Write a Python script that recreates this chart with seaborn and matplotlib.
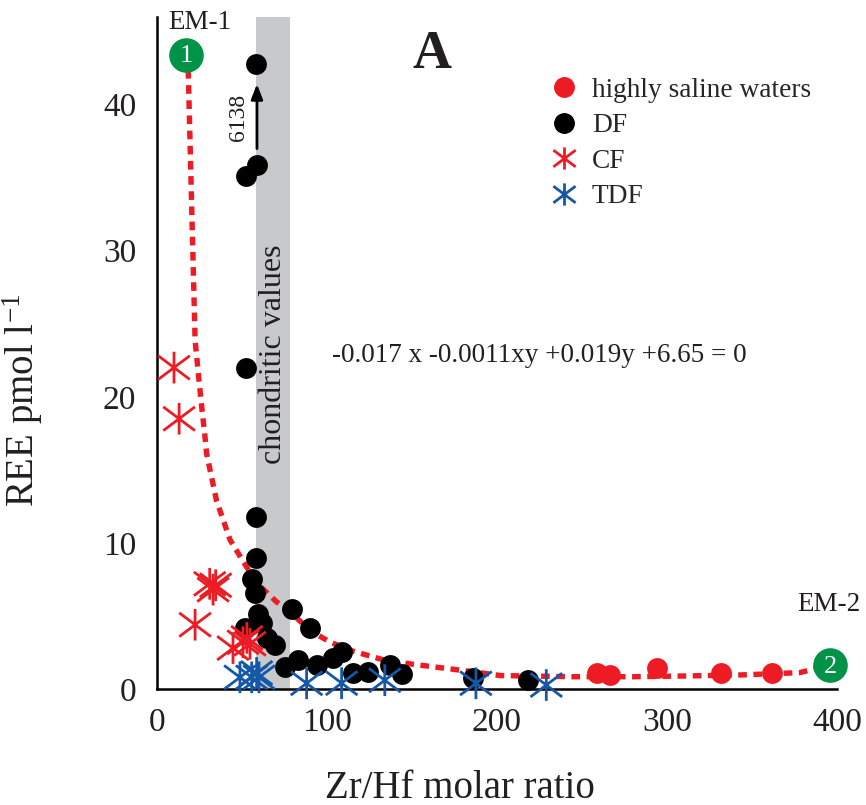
import matplotlib
matplotlib.use("Agg")
import matplotlib.pyplot as plt
from matplotlib.path import Path
from matplotlib.lines import Line2D
import numpy as np
import pandas as pd
import seaborn as sns

# ---- data -----------------------------------------------------------------
# highly saline waters
saline_zrhf = [258.8, 266.5, 294.0, 332.0, 362.0]
saline_ree = [1.10, 0.96, 1.44, 1.10, 1.10]

# DF (first sample is off scale: 6138 pmol/l, drawn at the top with an arrow)
df_zrhf = [58.2, 58.8, 52.4, 52.4, 58.2, 58.2, 55.9, 57.6, 59.4, 51.8, 61.8,
           64.7, 69.4, 79.4, 90.0, 75.3, 83.0, 94.0, 103.5, 108.8, 115.3,
           124.0, 137.0, 144.0, 186.0, 218.0]
df_ree = [6138.0, 35.9, 35.1, 22.0, 11.8, 9.0, 7.5, 6.6, 5.1, 4.2, 4.5,
          3.5, 3.0, 5.5, 4.2, 1.5, 2.0, 1.64, 2.1, 2.5, 1.1,
          1.16, 1.64, 1.0, 0.75, 0.6]
df_display_cap = 42.8

# CF
cf_zrhf = [10.0, 13.0, 31.0, 33.0, 34.5, 22.4, 44.7, 50.6, 52.9, 54.7]
cf_ree = [22.0, 18.5, 7.2, 6.8, 7.1, 4.4, 2.8, 3.2, 3.5, 3.1]

# TDF
tdf_zrhf = [48.8, 55.7, 58.6, 60.0, 88.0, 108.6, 134.0, 187.6, 229.0]
tdf_ree = [0.80, 0.80, 1.10, 0.80, 0.39, 0.40, 0.60, 0.39, 0.27]

# end members
em_zrhf = [17.0, 396.0]
em_ree = [43.4, 1.64]
em_num = ["1", "2"]
em_names = ["EM-1", "EM-2"]

# mixing curve between the end members
mix_zrhf = [17, 18.4, 19.4, 20.4, 21.4, 22.4, 24.3, 26.3, 28.2, 29.2, 35, 43,
            53, 60, 70, 80, 90, 102, 115, 133, 150, 168, 186, 202, 245, 280,
            310, 343, 378, 396]
mix_ree = [43.4, 42.2, 37.6, 33.0, 28.5, 23.9, 21.6, 19.3, 17.3, 16.1, 12.9,
           10.2, 8.3, 7.1, 6.0, 5.1, 4.0, 3.2, 2.6, 2.0, 1.7, 1.44, 1.18, 0.92,
           0.84, 0.84, 0.89, 0.96, 1.12, 1.64]

chondritic_range = (58.0, 78.0)
equation = "-0.017 x -0.0011xy +0.019y +6.65 = 0"

# ---- style ----------------------------------------------------------------
sns.set_style("white")
plt.rcParams["font.family"] = ["Liberation Serif", "DejaVu Serif"]
plt.rcParams["mathtext.fontset"] = "stix"

RED = "#ED1C24"
BLUE = "#1558A8"
GREEN = "#009247"
INK = "#231F20"
GREY = "#C8C9CB"

# six-spoke asterisk: vertical bar plus a wide X
star = Path([(0, -1), (0, 1), (-1.0, -0.75), (1.0, 0.75), (-1.0, 0.75), (1.0, -0.75)],
            [Path.MOVETO, Path.LINETO, Path.MOVETO, Path.LINETO, Path.MOVETO, Path.LINETO])

fig = plt.figure(figsize=(8.66, 8.05), dpi=100)
ax = fig.add_axes([0.1813, 0.1441, 0.7852, 0.8348])

ax.axvspan(*chondritic_range, color=GREY, lw=0, zorder=0)
ax.text(sum(chondritic_range) / 2 + 0.5, 22.9, "chondritic values", rotation=90,
        ha="center", va="center", fontsize=23, color=INK, zorder=1)

mix = pd.DataFrame({"zrhf": mix_zrhf, "ree": mix_ree})
sns.lineplot(data=mix, x="zrhf", y="ree", sort=False, estimator=None, ax=ax,
             color=RED, lw=3.9, linestyle=(0, (1.6, 1.2)), dash_capstyle="butt",
             zorder=2)

df = pd.DataFrame({"zrhf": df_zrhf, "ree": np.minimum(df_ree, df_display_cap)})
sns.scatterplot(data=df, x="zrhf", y="ree", ax=ax, color="black", s=225,
                linewidth=0, zorder=3, clip_on=False)

cf = pd.DataFrame({"zrhf": cf_zrhf, "ree": cf_ree})
sns.scatterplot(data=cf, x="zrhf", y="ree", ax=ax, marker=star, s=520,
                color=RED, edgecolor=RED, facecolor="none", linewidth=2.0,
                zorder=4, clip_on=False)

tdf = pd.DataFrame({"zrhf": tdf_zrhf, "ree": tdf_ree})
sns.scatterplot(data=tdf, x="zrhf", y="ree", ax=ax, marker=star, s=520,
                color=BLUE, edgecolor=BLUE, facecolor="none", linewidth=2.0,
                zorder=5, clip_on=False)

sal = pd.DataFrame({"zrhf": saline_zrhf, "ree": saline_ree})
sns.scatterplot(data=sal, x="zrhf", y="ree", ax=ax, color=RED, s=225,
                linewidth=0, zorder=5, clip_on=False)

em = pd.DataFrame({"zrhf": em_zrhf, "ree": em_ree})
sns.scatterplot(data=em, x="zrhf", y="ree", ax=ax, color=GREEN, s=620,
                linewidth=0, zorder=6, clip_on=False)
for xv, yv, n in zip(em_zrhf, em_ree, em_num):
    ax.text(xv, yv - 0.1, n, ha="center", va="center", color="white", fontsize=19,
            zorder=7, clip_on=False)
ax.text(6.5, 45.6, em_names[0], ha="left", va="center", fontsize=19.5, color=INK,
        clip_on=False)
ax.text(395.0, 5.8, em_names[1], ha="center", va="center", fontsize=19.5, color=INK,
        clip_on=False)

# arrow marking the off-scale DF sample
ax.annotate("", xy=(58.8, 41.6), xytext=(58.8, 36.8),
            arrowprops=dict(arrowstyle="-|>,head_length=0.9,head_width=0.35",
                            color="black", lw=2.0), zorder=6)
ax.text(48.0, 39.1, f"{df_ree[0]:.0f}", rotation=90, ha="center", va="center",
        fontsize=17, color=INK)

ax.text(162, 43.4, "A", ha="center", va="center", fontsize=39,
        fontweight="bold", color=INK)
ax.text(103, 22.8, equation, ha="left", va="center", fontsize=19.5, color=INK)

handles = [
    Line2D([], [], ls="none", marker="o", ms=14, mfc=RED, mec=RED),
    Line2D([], [], ls="none", marker="o", ms=14, mfc="black", mec="black"),
    Line2D([], [], ls="none", marker=star, ms=16, mfc="none", mec=RED, mew=2.0),
    Line2D([], [], ls="none", marker=star, ms=16, mfc="none", mec=BLUE, mew=2.0),
]
labels = ["highly saline waters", "DF", "CF", "TDF"]
ax.legend(handles, labels, loc="upper left", bbox_to_anchor=(0.563, 0.926),
          frameon=False, fontsize=19.7, handlelength=1.0, handletextpad=0.5,
          labelspacing=0.38, borderaxespad=0)

ax.set_xlim(0, 400)
ax.set_ylim(0, 46)
ax.set_xticks([0, 100, 200, 300, 400])
ax.set_yticks([0, 10, 20, 30, 40])
ax.tick_params(direction="in", length=5, width=1.6, labelsize=24,
               colors="black", labelcolor=INK)
ax.tick_params(axis="x", pad=13)
ax.tick_params(axis="y", pad=15)
for side in ("top", "right"):
    ax.spines[side].set_visible(False)
for side in ("left", "bottom"):
    ax.spines[side].set_color("black")
    ax.spines[side].set_linewidth(1.8)

ax.set_xlabel("Zr/Hf molar ratio", fontsize=28, color=INK)
ax.set_ylabel(r"REE pmol l$^{\mathregular{-1}}$", fontsize=28, color=INK)
ax.xaxis.set_label_coords(0.446, -0.120)
ax.yaxis.set_label_coords(-0.165, 0.43)

fig.savefig("out.png", dpi=100)
